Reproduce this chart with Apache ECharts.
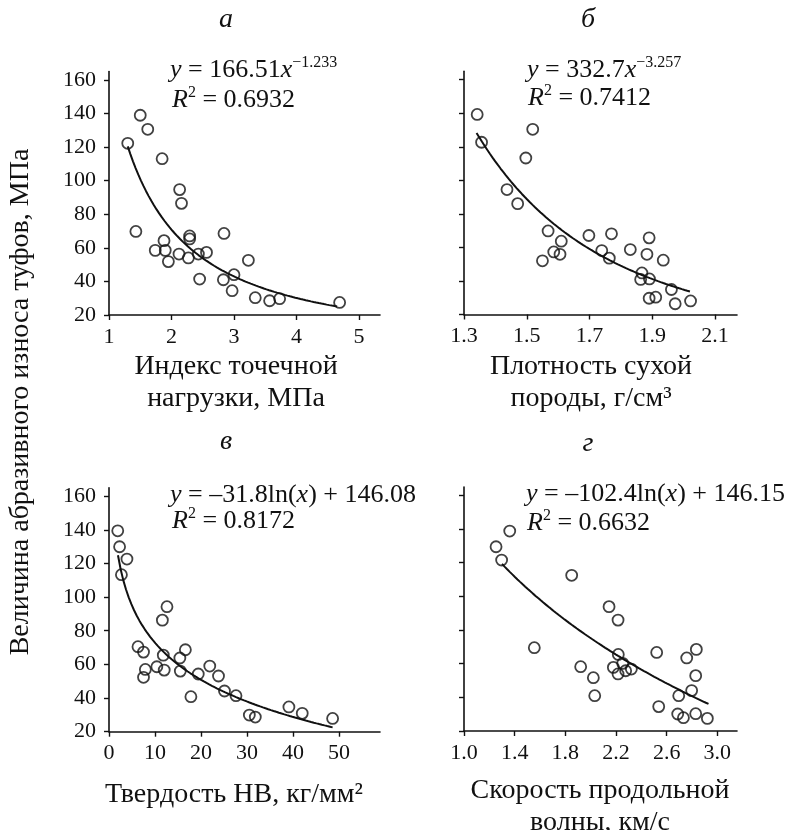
<!DOCTYPE html>
<html><head><meta charset="utf-8">
<script src="https://cdn.jsdelivr.net/npm/echarts@6/dist/echarts.min.js"></script>
<style>html,body{margin:0;padding:0;background:#fff}#c{width:794px;height:830px}</style>
</head><body><div id="c"></div>
<script>
// ---- Data ----
// а: point load index, MPa
const pointLoadX = [1.30,1.50,1.62,1.85,2.13,2.16,1.43,1.88,1.74,1.90,1.95,2.12,2.27,2.29,2.29,2.43,2.56,2.45,2.84,2.83,3.00,2.97,3.23,3.34,3.57,3.73,4.69];
const pointLoadY = [122.3,139.0,130.6,113.1,94.7,86.5,69.8,64.3,58.5,58.5,51.8,56.3,54.0,67.1,65.3,56.3,57.3,41.4,68.6,41.0,44.0,34.5,52.6,30.3,28.5,29.7,27.5];
// б: dry density, g/cm3
const densityX = [1.342,1.356,1.519,1.497,1.437,1.471,1.568,1.610,1.586,1.606,1.550,1.698,1.770,1.739,1.763,1.830,1.890,1.883,1.935,1.867,1.863,1.891,1.961,1.890,1.911,1.973,2.022];
const densityY = [139.3,122.7,130.4,113.3,94.5,86.1,69.8,63.7,57.3,55.9,52.0,67.1,68.1,58.1,53.6,58.7,65.7,55.9,52.4,44.8,40.9,41.2,34.9,29.7,30.3,26.4,28.1];
// в: hardness HB, kg/mm2
const hardnessX = [1.9,2.3,3.9,2.7,12.6,11.6,6.3,7.5,7.9,7.5,10.4,11.8,12.0,15.4,16.6,15.5,17.8,19.4,21.9,23.8,25.1,27.6,30.5,31.8,39.1,42.0,48.6];
const hardnessY = [139.4,129.9,122.6,113.3,94.3,86.3,70.5,67.3,57.0,52.3,58.6,65.5,56.6,63.8,68.7,56.0,40.8,54.3,59.0,53.1,44.2,41.4,29.9,28.7,34.7,30.9,27.9];
// г: P-wave velocity, km/s
const velocityX = [1.253,1.361,1.297,1.85,1.555,2.145,2.216,1.921,2.021,2.032,2.218,2.179,2.253,2.216,2.276,2.321,2.521,2.537,2.695,2.758,2.834,2.829,2.797,2.687,2.732,2.829,2.921];
const velocityY = [129.5,138.8,121.6,112.5,69.5,93.9,85.9,58.2,51.7,41.0,65.5,57.8,60.2,53.9,55.8,56.8,66.7,34.5,41.0,63.4,68.5,52.9,44.0,30.1,27.9,30.3,27.5];

// Trend equations printed on the chart and x-extent of each drawn curve
const trendA = {type:'power', a:166.51, b:-1.233, from:1.30, to:4.65};
const trendB = {type:'power', a:332.7,  b:-3.257, from:1.34, to:2.02};
const trendC = {type:'log',   a:-31.8,  b:146.08, from:1.95, to:48.6};
const trendD = {type:'log',   a:-102.4, b:146.15, from:1.30, to:2.93};

// Tick labels
const yTicks = [20,40,60,80,100,120,140,160];
const xTicksA = [1,2,3,4,5];
const xTicksB = [1.3,1.5,1.7,1.9,2.1];
const xTicksC = [0,10,20,30,40,50];
const xTicksD = [1.0,1.4,1.8,2.2,2.6,3.0];

const xNames = ['Индекс точечной\nнагрузки, МПа','Плотность сухой\nпороды, г/см³','Твердость НВ, кг/мм²','Скорость продольной\nволны, км/с'];
const panelLetters = ['а','б','в','г'];
const yTitle = 'Величина абразивного износа туфов, МПа';

// ---- Build ----
const F = 'Liberation Serif, Times New Roman, serif';
const INK = '#111';
function trendPoints(t){
  const pts=[]; const n=80;
  for(let i=0;i<=n;i++){
    const x=t.from+(t.to-t.from)*i/n;
    const y = t.type==='power' ? t.a*Math.pow(x,t.b) : t.a*Math.log(x)+t.b;
    pts.push([x,y]);
  }
  return pts;
}
const zip=(xs,ys)=>xs.map((x,i)=>[x,ys[i]]);

const grids = [
  {left:109, top:71.6, width:271, height:243.4},
  {left:464, top:71.3, width:273, height:243.2},
  {left:109, top:487.7, width:271, height:244},
  {left:464, top:487, width:273, height:244}
].map(g=>Object.assign({outerBoundsMode:'none', containLabel:false}, g));

const xCfg = [
  {min:1, max:5.336, ticks:xTicksA, fmt:v=>String(v)},
  {min:1.3, max:2.17, ticks:xTicksB, fmt:v=>v.toFixed(1)},
  {min:0, max:58.9, ticks:xTicksC, fmt:v=>String(v)},
  {min:1.0, max:3.155, ticks:xTicksD, fmt:v=>v.toFixed(1)}
];
const axisLine = {show:true, lineStyle:{color:INK, width:1.6}};
const xAxis = xCfg.map((c,i)=>({
  type:'value', gridIndex:i, min:c.min, max:c.max,
  axisLine, splitLine:{show:false},
  axisTick:{show:true, inside:false, length:5, lineStyle:{color:INK,width:1.4}, customValues:c.ticks},
  axisLabel:{show:true, customValues:c.ticks, formatter:c.fmt, fontFamily:F, fontSize:22, color:INK, margin:11}
}));
const yAxis = [0,1,2,3].map(i=>({
  type:'value', gridIndex:i, min:20, max:165,
  axisLine, splitLine:{show:false},
  axisTick:{show:true, inside:false, length:5, lineStyle:{color:INK,width:1.4}, customValues:yTicks},
  axisLabel:{show:(i%2===0), customValues:yTicks, fontFamily:F, fontSize:22, color:INK, margin:13}
}));

const scatterSets=[zip(pointLoadX,pointLoadY),zip(densityX,densityY),zip(hardnessX,hardnessY),zip(velocityX,velocityY)];
const trends=[trendA,trendB,trendC,trendD];
const series=[];
trends.forEach((t,i)=>series.push({type:'line', xAxisIndex:i, yAxisIndex:i, data:trendPoints(t), showSymbol:false, symbol:'none', lineStyle:{color:INK,width:2}, z:2, silent:true}));
scatterSets.forEach((d,i)=>series.push({type:'scatter', xAxisIndex:i, yAxisIndex:i, data:d, symbol:'circle', symbolSize:11,
  itemStyle:{color:'rgba(255,255,255,0)', borderColor:INK, borderWidth:1.8}, z:3}));

const rich = {
  i:{fontFamily:F, fontStyle:'italic', fontSize:26, lineHeight:30, color:INK},
  n:{fontFamily:F, fontSize:26, lineHeight:30, color:INK},
  s:{fontFamily:F, fontSize:16, lineHeight:14, verticalAlign:'top', color:INK}
};
function eqText(x,y,txt){
  return {type:'text', x:x, y:y, style:{text:txt, rich:rich, verticalAlign:'middle', align:'left', fill:INK}, z:10};
}
const equations = [
  [170,70,'{i|y}{n| = 166.51}{i|x}{s|−1.233}'],[172,100,'{i|R}{s|2}{n| = 0.6932}'],
  [527,70,'{i|y}{n| = 332.7}{i|x}{s|−3.257}'],[528,98,'{i|R}{s|2}{n| = 0.7412}'],
  [170,495,'{i|y}{n| = –31.8ln(}{i|x}{n|) + 146.08}'],[172,521,'{i|R}{s|2}{n| = 0.8172}'],
  [526,494,'{i|y}{n| = –102.4ln(}{i|x}{n|) + 146.15}'],[527,523,'{i|R}{s|2}{n| = 0.6632}']
];
const graphic = [];
equations.forEach(e=>graphic.push(eqText(e[0],e[1],e[2])));
const letterPos=[[226,20],[588,20],[226,442],[588,444]];
panelLetters.forEach((l,i)=>graphic.push({type:'text', x:letterPos[i][0], y:letterPos[i][1],
  style:{text:l, font:'italic 28px '+F, fill:INK, align:'center', verticalAlign:'middle'}}));
const namePos=[[236,383],[591,383],[234,795],[600,807]];
xNames.forEach((t,i)=>graphic.push({type:'text', x:namePos[i][0], y:namePos[i][1],
  style:{text:t, font:'28px '+F, lineHeight:32, fill:INK, align:'center', verticalAlign:'middle'}}));
graphic.push({type:'text', x:21, y:402, rotation:Math.PI/2,
  style:{text:yTitle, font:'28px '+F, fill:INK, align:'center', verticalAlign:'middle'}});

const chart = echarts.init(document.getElementById('c'), null, {renderer:'canvas'});
chart.setOption({animation:false, backgroundColor:'#fff', grid:grids, xAxis, yAxis, series, graphic});
</script></body></html>
